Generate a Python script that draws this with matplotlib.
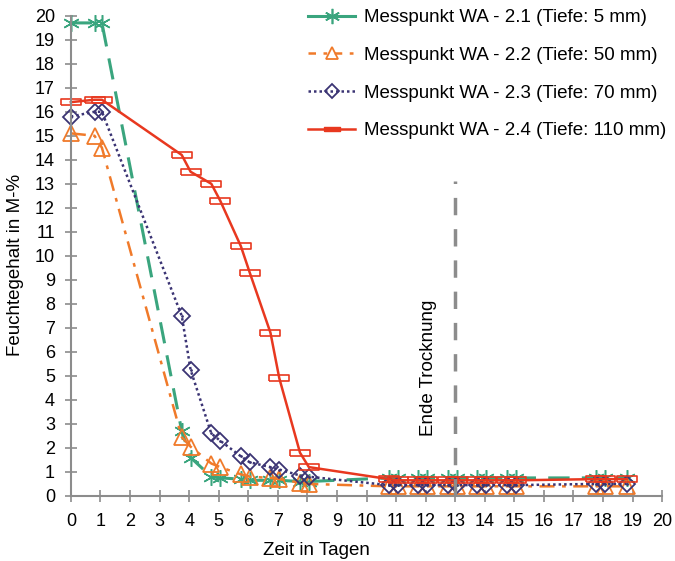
import numpy as np
import matplotlib.pyplot as plt
from matplotlib.lines import Line2D

plt.rcParams['font.family'] = ['Liberation Sans', 'DejaVu Sans']

# Messzeitpunkte (Tage) und Feuchtegehalte (M-%)
tage = [0, 0.8, 1.05, 3.75, 4.05, 4.75, 5.05, 5.75, 6.05, 6.75, 7.05, 7.75, 8.05,
        10.75, 11.05, 11.75, 12.05, 12.75, 13.05, 13.75, 14.05, 14.75, 15.05,
        17.75, 18.05, 18.8]

wa21 = [19.7, 19.7, 19.7, 2.7, 1.6, 0.8, 0.75, 0.7, 0.65, 0.65, 0.65, 0.6, 0.6,
        0.75, 0.75, 0.75, 0.75, 0.75, 0.75, 0.75, 0.75, 0.75, 0.75,
        0.75, 0.75, 0.75]
wa22 = [15.1, 15.0, 14.5, 2.45, 2.05, 1.35, 1.2, 0.9, 0.8, 0.75, 0.7, 0.55, 0.5,
        0.4, 0.4, 0.4, 0.4, 0.4, 0.4, 0.4, 0.4, 0.4, 0.4,
        0.4, 0.4, 0.4]
wa23 = [15.8, 16.0, 16.0, 7.5, 5.25, 2.6, 2.3, 1.65, 1.4, 1.2, 1.1, 0.85, 0.8,
        0.45, 0.45, 0.45, 0.45, 0.45, 0.45, 0.45, 0.45, 0.45, 0.45,
        0.5, 0.5, 0.5]
wa24 = [16.4, 16.5, 16.5, 14.2, 13.5, 13.0, 12.3, 10.4, 9.3, 6.8, 4.9, 1.8, 1.2,
        0.7, 0.65, 0.65, 0.65, 0.65, 0.65, 0.65, 0.65, 0.65, 0.65,
        0.7, 0.7, 0.7]

labels = ['Messpunkt WA - 2.1 (Tiefe: 5 mm)',
          'Messpunkt WA - 2.2 (Tiefe: 50 mm)',
          'Messpunkt WA - 2.3 (Tiefe: 70 mm)',
          'Messpunkt WA - 2.4 (Tiefe: 110 mm)']

ende_trocknung = 13

GREEN = '#3aa57e'
ORANGE = '#f07a2a'
PURPLE = '#3b3474'
RED = '#e8381f'
GREY = '#8c8c8c'

# flaches Rechteck als Marker fuer WA - 2.4
rect = [(-1, -0.28), (1, -0.28), (1, 0.28), (-1, 0.28), (-1, -0.28)]

fig = plt.figure(figsize=(6.75, 5.61), dpi=100)
ax = fig.add_axes([0.105, 0.116, 0.876, 0.856])

ax.plot(tage, wa21, color=GREEN, lw=2.2, ls=(0, (7, 4)),
        marker=(6, 2, 0), ms=12, mew=1.1, label=labels[0])
ax.plot(tage, wa22, color=ORANGE, lw=1.8, ls=(0, (6, 3, 1.5, 3)),
        marker='^', ms=12, mfc='none', mew=1.3, label=labels[1])
ax.plot(tage, wa23, color=PURPLE, lw=1.8, ls=(0, (1, 1.2)),
        marker='D', ms=8, mfc='none', mew=1.3, label=labels[2])
ax.plot(tage, wa23, color=PURPLE, ls='none', marker='.', ms=2)
ax.plot(tage, wa24, color=RED, lw=1.8, ls='-',
        marker=rect, ms=14, mfc='none', mew=1.2, label=labels[3])

ax.vlines(ende_trocknung, 0, 13.1, color=GREY, lw=2.5, ls=(0, (5, 4)))
ax.text(12.1, 5.35, 'Ende Trocknung', rotation=90, ha='center', va='center',
        fontsize=13.5)

ax.set_xlim(0, 20)
ax.set_ylim(0, 20)
ax.set_xticks(np.arange(0, 21, 1))
ax.set_yticks(np.arange(0, 21, 1))
ax.tick_params(direction='inout', length=9, width=1.2, color=GREY,
               labelsize=13)
ax.tick_params(axis='x', pad=8)
ax.tick_params(axis='y', pad=7)
for side in ['top', 'right']:
    ax.spines[side].set_visible(False)
for side in ['left', 'bottom']:
    ax.spines[side].set_color(GREY)
    ax.spines[side].set_linewidth(1.5)
for ln in ax.lines:
    ln.set_clip_on(False)

ax.set_xlabel('Zeit in Tagen', fontsize=13.5)
ax.set_ylabel('Feuchtegehalt in M-%', fontsize=13.5)
ax.xaxis.set_label_coords(0.415, -0.095)
ax.yaxis.set_label_coords(-0.08, 0.48)

handles = [
    Line2D([], [], color=GREEN, lw=2.2, marker=(6, 2, 0), ms=11, mew=1.2),
    Line2D([], [], color=ORANGE, lw=1.8, ls=(0, (3, 3, 1.5, 3)),
           marker='^', ms=9, mfc='none', mew=1.3),
    Line2D([], [], color=PURPLE, lw=1.8, ls=(0, (1, 1.2)),
           marker='D', ms=7, mfc='none', mew=1.3),
    Line2D([], [], color=RED, lw=1.8, marker=rect, ms=12, mfc=RED, mew=1),
]
fig.legend(handles, labels, loc='upper left', bbox_to_anchor=(0.44, 1.004),
           frameon=False, fontsize=13.5, handlelength=2.5, handletextpad=0.45,
           labelspacing=1.1, borderaxespad=0.2)

fig.savefig('out.png', dpi=100)
